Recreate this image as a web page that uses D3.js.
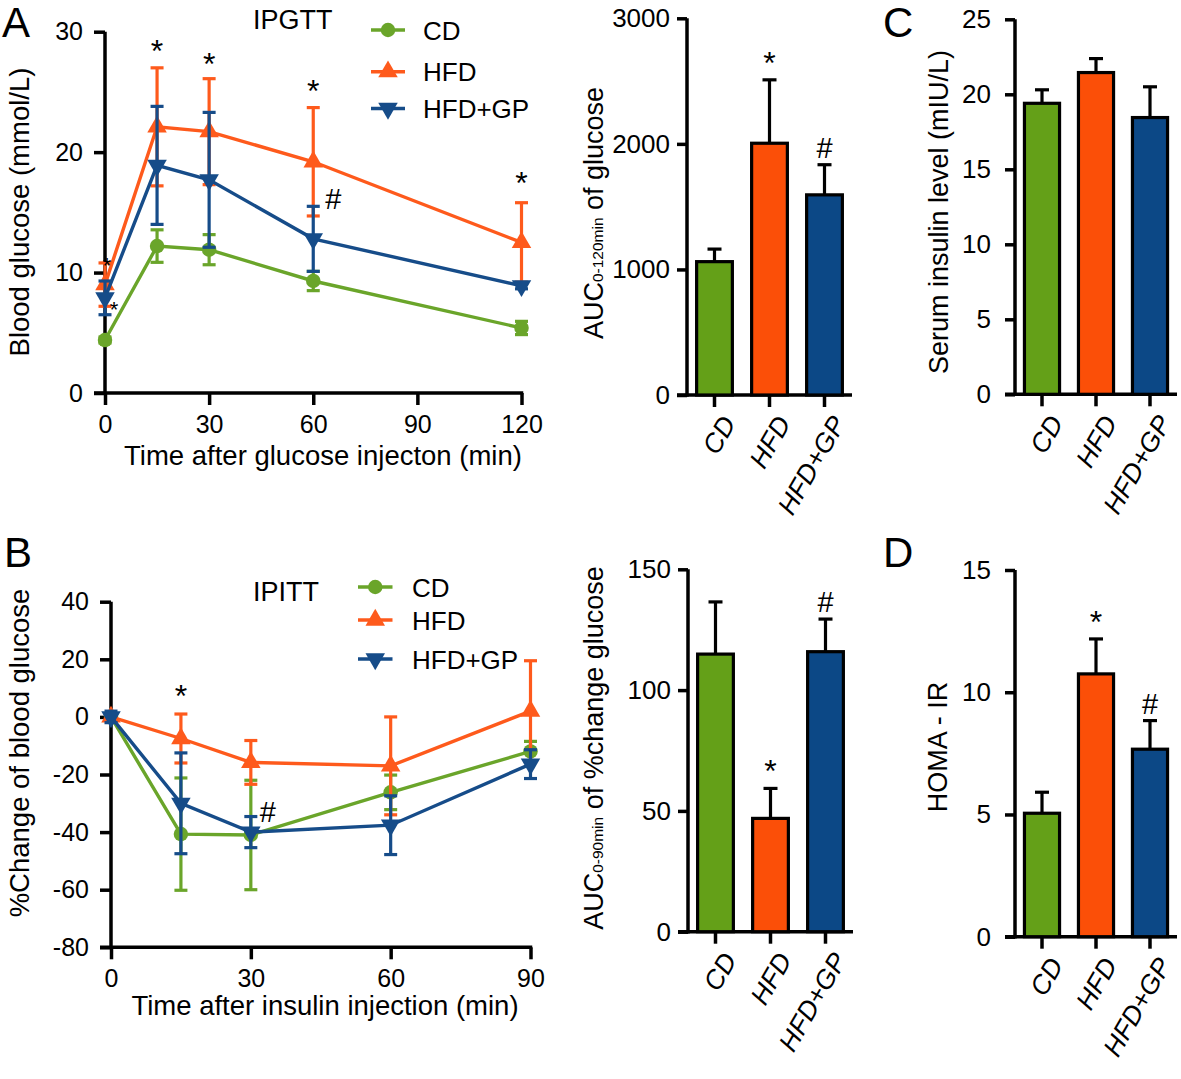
<!DOCTYPE html>
<html><head><meta charset="utf-8">
<script src="https://cdn.jsdelivr.net/npm/d3@7"></script>
<style>
body{margin:0;background:#fff}
svg{display:block}
text{font-family:Arial,"Liberation Sans",sans-serif;fill:#000}
</style>
</head><body><svg id="c" width="1181" height="1079"></svg>
<script>
// ---------- DATA ----------
const seriesNames = ["CD", "HFD", "HFD+GP"];
// Panel A: IPGTT blood glucose (mmol/L)
const timeA = [0, 15, 30, 60, 120];
const cdA = [4.4, 12.2, 11.9, 9.3, 5.4];
const cdAErr = [0.25, 1.35, 1.25, 0.8, 0.55];
const hfdA = [9.0, 22.1, 21.7, 19.2, 12.5];
const hfdAErr = [1.8, 4.9, 4.4, 4.5, 3.3];
const gpA = [7.9, 18.9, 17.7, 12.8, 8.9];
const gpAErr = [1.4, 4.9, 5.6, 2.7, 0.25];
const xTicksA = [0, 30, 60, 90, 120];
const yTicksA = [0, 10, 20, 30];
// Panel B: IPITT % change of blood glucose
const timeB = [0, 15, 30, 60, 90];
const cdB = [0, -40.7, -41, -26.2, -12];
const cdBErr = [0.5, 19.5, 19, 6, 3.5];
const hfdB = [0, -7.5, -15.8, -17, 2];
const hfdBErr = [1, 8.5, 7.6, 17, 17.5];
const gpB = [0, -30, -40, -37.6, -16.4];
const gpBErr = [2, 17.5, 5.4, 10.2, 5];
const xTicksB = [0, 30, 60, 90];
const yTicksB = [-80, -60, -40, -20, 0, 20, 40];
// Bar panels
const aucGlucose = [1062, 2005, 1594];
const aucGlucoseErr = [100, 505, 240];
const yTicksAucG = [0, 1000, 2000, 3000];
const insulin = [19.4, 21.45, 18.45];
const insulinErr = [0.9, 0.93, 2.05];
const yTicksIns = [0, 5, 10, 15, 20, 25];
const aucChange = [114.9, 46.9, 115.9];
const aucChangeErr = [21.6, 12.4, 13.5];
const yTicksAucC = [0, 50, 100, 150];
const homa = [5.05, 10.75, 7.67];
const homaErr = [0.86, 1.43, 1.17];
const yTicksHoma = [0, 5, 10, 15];

// ---------- STYLE ----------
const lineColors = ["#6aa52a", "#fe5a1c", "#164c89"];
const barColors = ["#64a018", "#fb4f08", "#0c4886"];
const symbols = [d3.symbolCircle, d3.symbolTriangle, d3.symbolTriangle];
const AX = 3.5;
const fmt = d => String(d);

const svg = d3.select("#c");
svg.append("rect").attr("width", 1181).attr("height", 1079).attr("fill", "#fff");

function marker(g, i, cx, cy, size) {
  const sym = d3.symbol().type(symbols[i]).size(size)();
  g.append("path").attr("d", sym)
    .attr("transform", `translate(${cx},${cy})` + (i === 2 ? " rotate(180)" : ""))
    .attr("fill", lineColors[i]);
}

function yAxisDraw(g, y, x0, ticks, tickLen, pad, fs) {
  const ax = g.append("g").attr("transform", `translate(${x0},0)`)
    .call(d3.axisLeft(y).tickValues(ticks).tickFormat(fmt).tickSize(tickLen).tickPadding(pad).tickSizeOuter(0));
  ax.select(".domain").remove();
  ax.selectAll(".tick line").attr("stroke", "#000").attr("stroke-width", AX);
  ax.selectAll(".tick text").attr("font-size", fs).attr("font-family", "Arial, Liberation Sans, sans-serif").attr("fill", "#000");
  const d = y.range();
  g.append("line").attr("x1", x0).attr("x2", x0).attr("y1", d[1]).attr("y2", d[0] + AX / 2)
    .attr("stroke", "#000").attr("stroke-width", AX);
}

function linePanel(cfg) {
  const g = svg.append("g");
  const x = d3.scaleLinear().domain(cfg.xDomain).range(cfg.xRange);
  const y = d3.scaleLinear().domain(cfg.yDomain).range(cfg.yRange);
  const x0 = cfg.xRange[0], y0 = cfg.yRange[0];
  yAxisDraw(g, y, x0, cfg.yTicks, 11, 11, 25);
  const xa = g.append("g").attr("transform", `translate(0,${y0})`)
    .call(d3.axisBottom(x).tickValues(cfg.xTicks).tickFormat(fmt).tickSize(12).tickPadding(10).tickSizeOuter(0));
  xa.select(".domain").remove();
  xa.selectAll(".tick line").attr("stroke", "#000").attr("stroke-width", AX);
  xa.selectAll(".tick text").attr("font-size", 25).attr("fill", "#000").attr("font-family", "Arial, Liberation Sans, sans-serif");
  g.append("line").attr("x1", x0 - 11).attr("x2", cfg.xRange[1] + AX / 2).attr("y1", y0).attr("y2", y0)
    .attr("stroke", "#000").attr("stroke-width", AX);

  cfg.series.forEach((s, i) => {
    const sg = g.append("g");
    const c = lineColors[i];
    s.v.forEach((v, k) => {
      const cx = x(cfg.time[k]);
      const e = s.e[k];
      sg.append("line").attr("x1", cx).attr("x2", cx).attr("y1", y(v - e)).attr("y2", y(v + e))
        .attr("stroke", c).attr("stroke-width", 3.2);
      [v - e, v + e].forEach(t => sg.append("line").attr("x1", cx - 6.5).attr("x2", cx + 6.5)
        .attr("y1", y(t)).attr("y2", y(t)).attr("stroke", c).attr("stroke-width", 3.2));
    });
    const line = d3.line().x((d, k) => x(cfg.time[k])).y(d => y(d));
    sg.append("path").attr("d", line(s.v)).attr("fill", "none").attr("stroke", c).attr("stroke-width", 3.4);
    s.v.forEach((v, k) => marker(sg, i, x(cfg.time[k]), y(v), 165));
  });

  // legend
  cfg.legendY.forEach((ly, i) => {
    g.append("line").attr("x1", cfg.legendX[0]).attr("x2", cfg.legendX[1]).attr("y1", ly).attr("y2", ly)
      .attr("stroke", lineColors[i]).attr("stroke-width", 3.4);
    marker(g, i, (cfg.legendX[0] + cfg.legendX[1]) / 2, ly, 165);
    g.append("text").attr("x", cfg.legendText).attr("y", ly + 9.5).attr("font-size", 26).text(seriesNames[i]);
  });
  g.append("text").attr("x", cfg.titlePos[0]).attr("y", cfg.titlePos[1]).attr("font-size", 27).text(cfg.title);

  // annotations
  cfg.notes.forEach(n => {
    const s = cfg.series[n.s];
    const top = s.v[n.k] + s.e[n.k];
    g.append("text").attr("x", x(cfg.time[n.k]) + (n.dx || 0)).attr("y", y(top) + n.dy)
      .attr("text-anchor", "middle").attr("font-size", n.fs || (n.t === "*" ? 32 : 29)).text(n.t);
  });

  // axis titles
  g.append("text").attr("transform", `translate(${cfg.yTitlePos[0]},${cfg.yTitlePos[1]}) rotate(-90)`)
    .attr("text-anchor", "middle").attr("font-size", 27.5).text(cfg.yTitle);
  g.append("text").attr("x", cfg.xTitlePos[0]).attr("y", cfg.xTitlePos[1])
    .attr("text-anchor", "middle").attr("font-size", 27.5).text(cfg.xTitle);
}

function barPanel(cfg) {
  const g = svg.append("g");
  const x = d3.scaleBand().domain(seriesNames).range(cfg.xRange).paddingInner(0.35).paddingOuter(0.175);
  const y = d3.scaleLinear().domain(cfg.yDomain).range(cfg.yRange);
  const x0 = cfg.xRange[0], y0 = cfg.yRange[0];
  yAxisDraw(g, y, x0, cfg.yTicks, 10, cfg.yPad, 26);
  g.append("line").attr("x1", x0 - 10).attr("x2", cfg.xRange[1]).attr("y1", y0).attr("y2", y0)
    .attr("stroke", "#000").attr("stroke-width", AX);
  seriesNames.forEach((name, i) => {
    const bx = x(name), bw = x.bandwidth(), cx = bx + bw / 2;
    const v = cfg.values[i], e = cfg.errors[i];
    g.append("line").attr("x1", cx).attr("x2", cx).attr("y1", y(v)).attr("y2", y(v + e))
      .attr("stroke", "#000").attr("stroke-width", 3.2);
    g.append("line").attr("x1", cx - 7).attr("x2", cx + 7).attr("y1", y(v + e)).attr("y2", y(v + e))
      .attr("stroke", "#000").attr("stroke-width", 3.2);
    g.append("rect").attr("x", bx).attr("y", y(v)).attr("width", bw).attr("height", y0 - y(v))
      .attr("fill", barColors[i]).attr("stroke", "#000").attr("stroke-width", 3.2);
    g.append("line").attr("x1", cx).attr("x2", cx).attr("y1", y0).attr("y2", y0 + 12)
      .attr("stroke", "#000").attr("stroke-width", AX);
    g.append("text").attr("transform", `translate(${cx + 22},${y0 + 28}) rotate(-60)`)
      .attr("text-anchor", "end").attr("font-size", 26.5).attr("font-style", "italic").text(name);
    const note = cfg.notes[i];
    if (note) {
      g.append("text").attr("x", cx).attr("y", y(v + e) + (note === "*" ? -6 : -7))
        .attr("text-anchor", "middle").attr("font-size", note === "*" ? 32 : 29).text(note);
    }
  });
  const t = g.append("text").attr("transform", `translate(${cfg.yTitlePos[0]},${cfg.yTitlePos[1]}) rotate(-90)`)
    .attr("text-anchor", "middle").attr("font-size", 27);
  if (cfg.sub) {
    t.append("tspan").text(cfg.yTitle[0]);
    t.append("tspan").attr("font-size", 15.5).text(cfg.sub);
    t.append("tspan").text(cfg.yTitle[1]);
  } else t.text(cfg.yTitle);
}

// ---------- PANELS ----------
linePanel({
  xDomain: [0, 120], xRange: [105, 521.5], yDomain: [0, 30], yRange: [393, 31.7],
  xTicks: xTicksA, yTicks: yTicksA, time: timeA,
  series: [{v: cdA, e: cdAErr}, {v: hfdA, e: hfdAErr}, {v: gpA, e: gpAErr}],
  legendX: [371, 405], legendText: 423, legendY: [30, 71.7, 108.5],
  title: "IPGTT", titlePos: [253, 29],
  notes: [
    {s: 1, k: 1, t: "*", dy: -6}, {s: 1, k: 2, t: "*", dy: -4}, {s: 1, k: 3, t: "*", dy: -6},
    {s: 1, k: 4, t: "*", dy: -9}, {s: 2, k: 3, t: "#", dx: 20, dy: 3},
    {s: 1, k: 0, t: "*", dx: 2, dy: 10, fs: 22}, {s: 0, k: 0, t: "*", dx: 9, dy: -20, fs: 22}
  ],
  yTitle: "Blood glucose (mmol/L)", yTitlePos: [29, 212],
  xTitle: "Time after glucose injecton (min)", xTitlePos: [323, 465]
});

linePanel({
  xDomain: [0, 90], xRange: [111, 530.5], yDomain: [-80, 40], yRange: [947.3, 601.7],
  xTicks: xTicksB, yTicks: yTicksB, time: timeB,
  series: [{v: cdB, e: cdBErr}, {v: hfdB, e: hfdBErr}, {v: gpB, e: gpBErr}],
  legendX: [358, 392.5], legendText: 412, legendY: [587, 620, 659],
  title: "IPITT", titlePos: [253, 601],
  notes: [
    {s: 1, k: 1, t: "*", dy: -7}, {s: 2, k: 2, t: "#", dx: 17, dy: 5}
  ],
  yTitle: "%Change of blood glucose", yTitlePos: [29, 753],
  xTitle: "Time after insulin injection (min)", xTitlePos: [325, 1015]
});

barPanel({
  xRange: [687, 852], yDomain: [0, 3000], yRange: [395, 18.3], yTicks: yTicksAucG, yPad: 7,
  values: aucGlucose, errors: aucGlucoseErr, notes: [null, "*", "#"],
  yTitle: ["AUC", " of glucose"], sub: "0-120min", yTitlePos: [603, 213]
});
barPanel({
  xRange: [1015, 1177], yDomain: [0, 25], yRange: [394.3, 19.3], yTicks: yTicksIns, yPad: 14,
  values: insulin, errors: insulinErr, notes: [null, null, null],
  yTitle: "Serum insulin level (mIU/L)", yTitlePos: [948, 212]
});
barPanel({
  xRange: [688, 853], yDomain: [0, 150], yRange: [931.7, 569.3], yTicks: yTicksAucC, yPad: 7,
  values: aucChange, errors: aucChangeErr, notes: [null, "*", "#"],
  yTitle: ["AUC", " of %change glucose"], sub: "0-90min", yTitlePos: [603, 748]
});
barPanel({
  xRange: [1015, 1177], yDomain: [0, 15], yRange: [936.7, 570], yTicks: yTicksHoma, yPad: 14,
  values: homa, errors: homaErr, notes: [null, "*", "#"],
  yTitle: "HOMA - IR", yTitlePos: [947, 747]
});

// panel letters
[["A", 2, 37], ["B", 4, 567], ["C", 883, 37], ["D", 883, 567]].forEach(([t, x, y]) =>
  svg.append("text").attr("x", x).attr("y", y).attr("font-size", 42).text(t));
</script></body></html>
